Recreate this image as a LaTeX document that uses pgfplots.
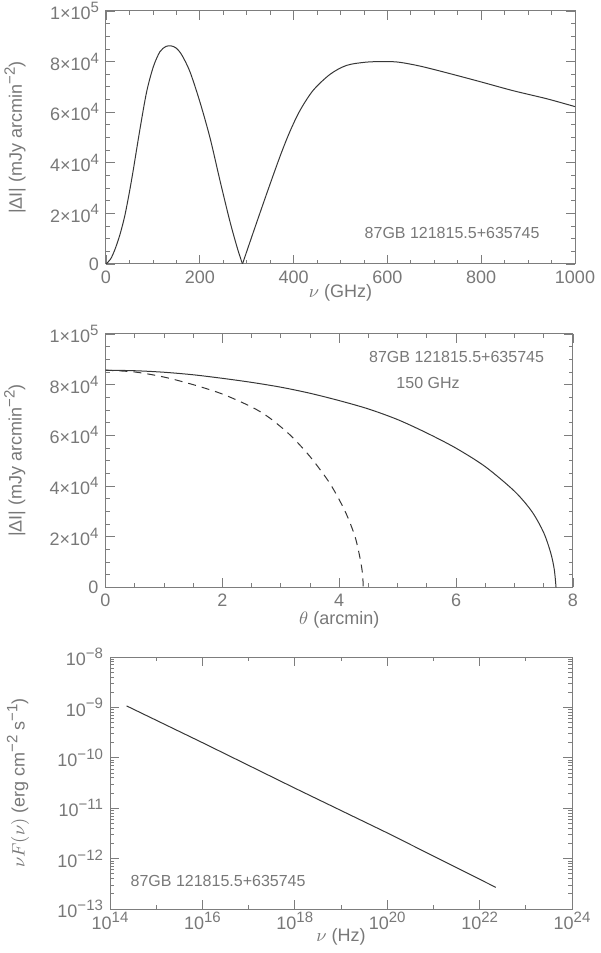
\documentclass[border=0pt]{standalone}
\usepackage{fontspec}
\setmainfont{Liberation Sans}
\usepackage{pgfplots}
\pgfplotsset{compat=1.18}

\definecolor{txtgray}{RGB}{120,120,120}
\definecolor{axgray}{RGB}{125,125,125}
\definecolor{curve}{RGB}{55,55,55}
\newcommand\sups[1]{\raisebox{0.75ex}{\fontsize{7.5}{8}\selectfont #1}}

\pgfplotsset{
  idl/.style={
    scale only axis,
    anchor=south west,
    axis line style={axgray, line width=0.5pt},
    every tick/.style={axgray, line width=0.4pt},
    major tick length=4.5pt,
    minor tick length=2.2pt,
    tick align=inside,
    tick label style={font=\fontsize{9}{10}\selectfont, text=txtgray},
    label style={font=\fontsize{9}{10}\selectfont, text=txtgray},
    scaled ticks=false,
  },
  sz/.style={
    ymin=0, ymax=100000,
    ytick={0,20000,40000,60000,80000,100000},
    yticklabels={0,2×10\sups{4},4×10\sups{4},6×10\sups{4},8×10\sups{4},1×10\sups{5}},
    minor y tick num=3,
  },
  crv/.style={curve, line width=0.5pt, smooth, tension=0.5},
}

\begin{document}
\begin{tikzpicture}
\path[use as bounding box] (0,0) rectangle (300pt,476.5pt);

% spectrum
\begin{axis}[idl, sz, at={(53pt,344.5pt)}, width=234.5pt, height=126.5pt,
  xmin=0, xmax=1000, xtick={0,200,400,600,800,1000},
  xticklabels={0,200,400,600,800,1000}, minor x tick num=3,
  xlabel={$\nu$ (GHz)}, ylabel={|ΔI| (mJy arcmin\sups{−2})},
  xlabel style={at={(axis description cs:0.5,-0.115)}, anchor=center},
  ylabel style={at={(axis description cs:-0.194,0.5)}, anchor=center}]
\addplot[crv] coordinates {
(0,0)(10,2000)(20,6200)(30,11800)(40,19000)(50,28500)(58,37000)(72.5,53400)
(86.7,68100)(101,78000)(115,83900)(128,86000)(139,86200)(150,85300)(162,82500)
(179,76000)(200,64200)(222,49700)(243,33000)(264,17000)(280,6300)(291,0)};
\addplot[crv] coordinates {
(291,0)(314,12500)(343,28000)(371,42500)(392,52300)(414,60800)(442,68700)
(478,75000)(513,78500)(556,79800)(599,80000)(627,79700)(670,78200)
(726,75600)(797,72100)(868,68500)(940,65300)(1000,62200)};
\node[font=\fontsize{8}{9}\selectfont, text=txtgray] at (rel axis cs:0.738,0.1225) {87GB 121815.5+635745};
\end{axis}

% profile
\begin{axis}[idl, sz, at={(52.75pt,182.85pt)}, width=233.75pt, height=126.65pt,
  xmin=0, xmax=8, xtick={0,2,4,6,8}, xticklabels={0,2,4,6,8}, minor x tick num=3,
  xlabel={$\theta$ (arcmin)}, ylabel={|ΔI| (mJy arcmin\sups{−2})},
  xlabel style={at={(axis description cs:0.5,-0.13)}, anchor=center},
  ylabel style={at={(axis description cs:-0.194,0.5)}, anchor=center}]
\addplot[crv] coordinates {
(0,85700)(0.5,85500)(1.0,84900)(1.5,83900)(2.0,82500)(2.5,80900)(3.0,79000)
(3.5,76600)(4.0,73700)(4.5,70400)(5.0,66200)(5.5,60900)(6.0,54900)(6.5,47600)
(7.0,37900)(7.3,29800)(7.5,21500)(7.62,13500)(7.68,7000)(7.71,0)};
\addplot[crv, dash pattern=on 4pt off 3pt] coordinates {
(0,85700)(0.5,85000)(1.0,83000)(1.5,80000)(2.0,76300)(2.5,71200)(2.8,67000)
(3.16,60100)(3.5,51600)(3.84,41000)(4.1,30000)(4.27,20000)(4.36,11000)(4.40,5000)(4.41,0)};
\node[font=\fontsize{8}{9}\selectfont, text=txtgray] at (rel axis cs:0.751,0.91) {87GB 121815.5+635745};
\node[font=\fontsize{8}{9}\selectfont, text=txtgray] at (rel axis cs:0.69,0.808) {150 GHz};
\end{axis}

% SED
\begin{axis}[idl, at={(55pt,22pt)}, width=231pt, height=126pt,
  xmode=log, ymode=log,
  xmin=1e14, xmax=1e24, ymin=1e-13, ymax=1e-8,
  xtick={1e14,1e16,1e18,1e20,1e22,1e24},
  minor xtick={1e15,1e17,1e19,1e21,1e23},
  xticklabels={10\sups{14},10\sups{16},10\sups{18},10\sups{20},10\sups{22},10\sups{24}},
  ytick={1e-13,1e-12,1e-11,1e-10,1e-9,1e-8},
  yticklabels={10\sups{−13},10\sups{−12},10\sups{−11},10\sups{−10},10\sups{−9},10\sups{−8}},
  xticklabel style={yshift=2pt},
  xlabel={$\nu$ (Hz)}, ylabel={$\nu F(\nu)$ (erg cm\sups{−2} s\sups{−1})},
  xlabel style={at={(axis description cs:0.5,-0.111)}, anchor=center},
  ylabel style={at={(axis description cs:-0.199,0.5)}, anchor=center}]
\addplot[curve, line width=0.5pt] coordinates {
(2.29e14,1.07e-9)(1e16,2.0e-10)(1e18,2.5e-11)(1e20,3.24e-12)(2.24e22,2.69e-13)};
\node[font=\fontsize{8}{9}\selectfont, text=txtgray] at (rel axis cs:0.234,0.111) {87GB 121815.5+635745};
\end{axis}
\end{tikzpicture}
\end{document}
